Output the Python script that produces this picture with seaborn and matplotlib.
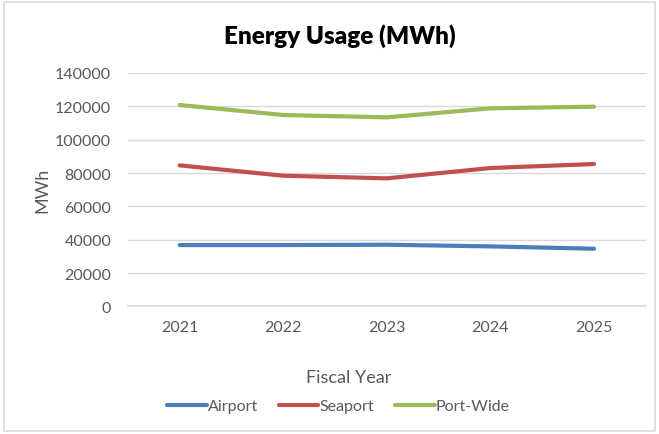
import matplotlib
matplotlib.use("Agg")
import matplotlib.pyplot as plt
import seaborn as sns
import pandas as pd

years = ["2021", "2022", "2023", "2024", "2025"]
airport = [36800, 36800, 37000, 36000, 34600]
seaport = [84600, 78400, 76800, 83000, 85400]
port_wide = [120800, 114800, 113400, 118800, 119800]
series_names = ["Airport", "Seaport", "Port-Wide"]
colors = ["#4a7ebb", "#c0504d", "#9bbb59"]
y_ticks = [0, 20000, 40000, 60000, 80000, 100000, 120000, 140000]

df = pd.DataFrame({
    "Fiscal Year": years * 3,
    "MWh": airport + seaport + port_wide,
    "Series": [s for s in series_names for _ in years],
})

sns.set_theme(style="white")
plt.rcParams["font.family"] = ["Lato", "DejaVu Sans"]

fig = plt.figure(figsize=(6.59, 4.35), dpi=100)
ax = fig.add_axes([0.194, 0.2933, 0.786, 0.5366])

sns.lineplot(data=df, x="Fiscal Year", y="MWh", hue="Series",
             palette=colors, hue_order=series_names, linewidth=3,
             ax=ax, sort=False, legend=False)

ax.set_ylim(0, 140000)
ax.set_xlim(-0.5, len(years) - 0.5)
ax.set_yticks(y_ticks)
ax.set_yticklabels([str(v) for v in y_ticks])
ax.grid(axis="y", color="#d9d9d9", linewidth=1)
ax.set_axisbelow(True)
for s in ["top", "right", "left"]:
    ax.spines[s].set_visible(False)
ax.spines["bottom"].set_color("#d9d9d9")
ax.spines["bottom"].set_linewidth(1.2)
ax.tick_params(axis="both", length=0, labelsize=11.5, colors="#595959")
ax.tick_params(axis="x", pad=10)
ax.tick_params(axis="y", pad=12)

ax.set_xlabel("Fiscal Year", fontsize=13, color="#595959", va="center")
ax.xaxis.set_label_coords(0.427, -0.302)
ax.set_ylabel("MWh", fontsize=13, color="#595959", va="center")
ax.yaxis.set_label_coords(-0.165, 0.5)

fig.text(0.516, 0.917, "Energy Usage (MWh)", ha="center", va="center",
         fontsize=17.5, fontweight="heavy", color="black")

handles = [plt.Line2D([], [], color=c, linewidth=3) for c in colors]
fig.legend(handles, series_names, loc="center", bbox_to_anchor=(0.513, 0.064),
           ncol=3, frameon=False, fontsize=11.5, handlelength=2.5,
           handletextpad=0.05, columnspacing=1.3, labelcolor="#595959")

# outer chart border
fig.add_artist(plt.Rectangle((0.006, 0.006), 0.988, 0.988, transform=fig.transFigure,
                             fill=False, edgecolor="#d9d9d9", linewidth=1.2))

fig.savefig("out.png", dpi=100)
